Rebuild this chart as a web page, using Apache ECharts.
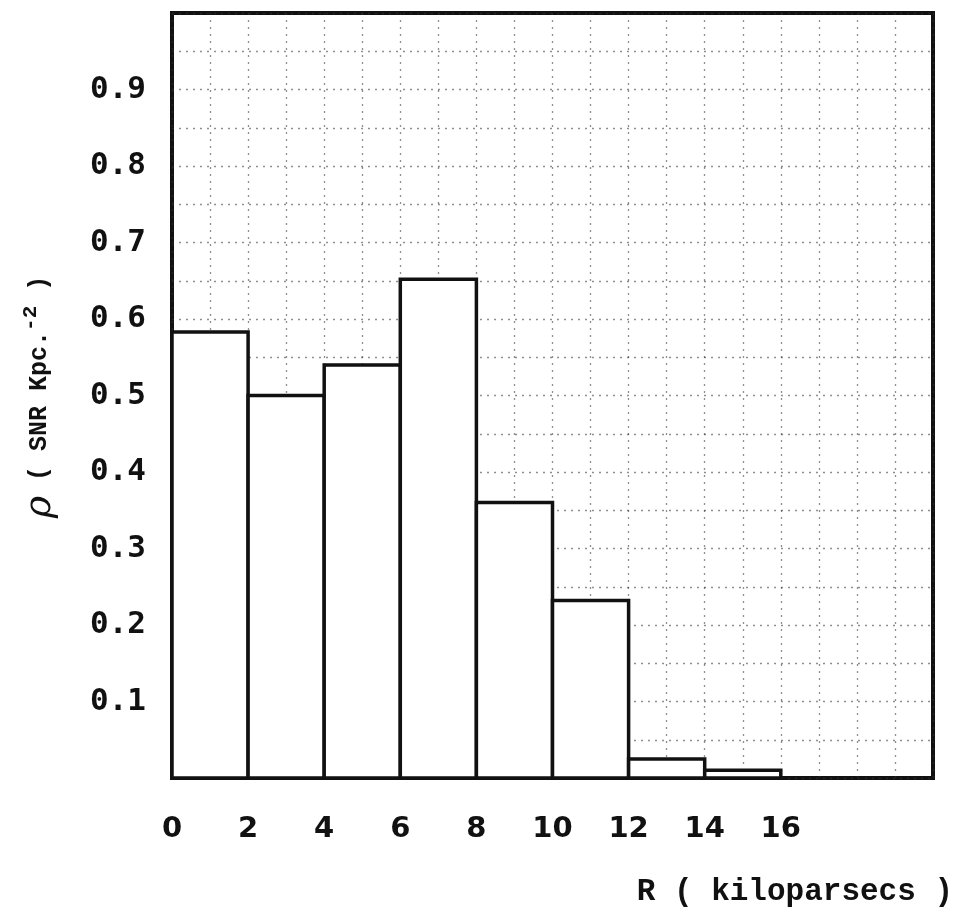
<!DOCTYPE html>
<html>
<head>
<meta charset="utf-8">
<title>SNR surface density vs galactocentric radius</title>
<script src="https://cdn.jsdelivr.net/npm/echarts@6/dist/echarts.min.js"></script>
<style>
    html, body { margin: 0; padding: 0; background: #fff; }
    #chart { width: 959px; height: 918px; }
</style>
</head>
<body>
<div id="chart"></div>
<script>
// histogram bins (kpc) and surface density of SNRs per bin
const binEdges = [0, 2, 4, 6, 8, 10, 12, 14, 16];
const density = [0.583, 0.50, 0.54, 0.652, 0.36, 0.232, 0.025, 0.010];

// tick labels shown on the axes
const xTickLabels = ['0', '2', '4', '6', '8', '10', '12', '14', '16'];
const yTickLabels = ['0.1', '0.2', '0.3', '0.4', '0.5', '0.6', '0.7', '0.8', '0.9'];

const xTitle = 'R ( kiloparsecs )';

// [start, end, value] for each bar
const bins = density.map((v, i) => [binEdges[i], binEdges[i + 1], v]);

const chart = echarts.init(document.getElementById('chart'));

/**
 * Draw one histogram bar from its bin edges
 */
function renderBin(params, api) {
    const p0 = api.coord([api.value(0), 0]);
    const p1 = api.coord([api.value(1), api.value(2)]);
    return {
        type: 'rect',
        shape: { x: p0[0], y: p1[1], width: p1[0] - p0[0], height: p0[1] - p1[1] },
        style: { fill: '#fff', stroke: '#111', lineWidth: 3.5 },
    };
}

const gridStyle = { color: '#333', width: 1.3, type: [2, 5], opacity: 0.55 };

chart.setOption({
    animation: false,
    backgroundColor: '#fff',
    grid: {
        left: 172, right: 26, top: 13, bottom: 140,
        show: true, borderColor: '#111', borderWidth: 4, backgroundColor: '#fff',
    },
    xAxis: {
        type: 'value', min: 0, max: 20, interval: 1,
        axisLine: { show: false },
        axisTick: { show: false },
        splitLine: { show: true, lineStyle: gridStyle },
        axisLabel: {
            margin: 37,
            fontFamily: 'DejaVu Sans', fontSize: 29, fontWeight: 'bold', color: '#111',
            formatter: v => xTickLabels.includes(String(v)) ? String(v) : '',
        },
    },
    yAxis: {
        type: 'value', min: 0, max: 1, interval: 0.05,
        axisLine: { show: false },
        axisTick: { show: false },
        splitLine: { show: true, lineStyle: gridStyle },
        axisLabel: {
            margin: 26,
            fontFamily: 'DejaVu Sans Mono', fontSize: 31, fontWeight: 'bold', color: '#111',
            formatter: v => {
                const s = (Math.round(v * 100) / 100).toFixed(2);
                const t = s.endsWith('0') ? s.slice(0, -1) : null;
                return t && yTickLabels.includes(t) ? t : '';
            },
        },
    },
    series: [{
        type: 'custom',
        renderItem: renderBin,
        data: bins,
        encode: { x: [0, 1], y: 2 },
        z: 5,
    }],
    graphic: [
        {
            type: 'text', right: 6, top: 877,
            style: { text: xTitle, font: 'bold 31px "Liberation Mono"', fill: '#111' },
        },
        {
            type: 'text', x: 40, y: 397, rotation: Math.PI / 2,
            style: {
                text: '{r|ρ} ( SNR Kpc.{s|-2} )',
                font: 'bold 25px "Liberation Mono"',
                fill: '#111',
                align: 'center',
                verticalAlign: 'middle',
                rich: {
                    r: { font: 'italic 38px "DejaVu Serif"', fill: '#111', lineHeight: 40 },
                    s: { font: 'bold 21px "Liberation Mono"', fill: '#111', verticalAlign: 'top', lineHeight: 40 },
                },
            },
        },
    ],
});
</script>
</body>
</html>
